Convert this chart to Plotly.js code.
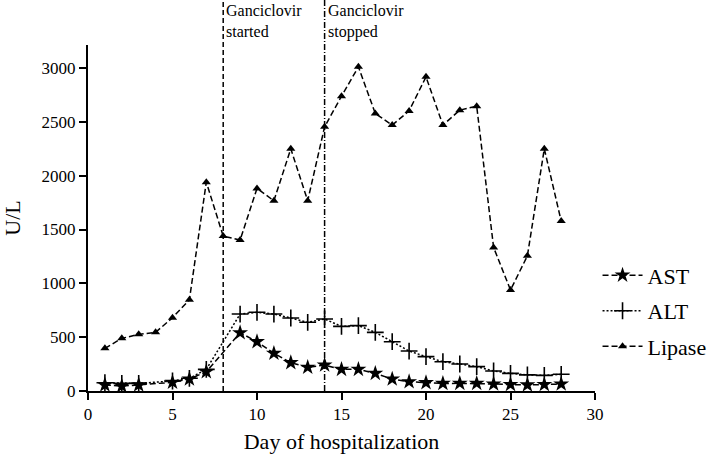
<!DOCTYPE html>
<html>
<head>
<meta charset="utf-8">
<script src="https://cdn.plot.ly/plotly-3.0.1.min.js"></script>
<style>
html,body{margin:0;padding:0;background:#fff;}
#chart{width:724px;height:461px;}
#pre{position:absolute;left:-9999px;top:0;font-family:'Liberation Serif';}
</style>
</head>
<body>
<div id="pre">AST ALT Lipase 0123456789</div>
<div id="chart"></div>
<script>
const daysAll = [1,2,3,4,5,6,7,8,9,10,11,12,13,14,15,16,17,18,19,20,21,22,23,24,25,26,27,28];
const lipase = [396,489,526,545,681,848,1940,1439,1402,1882,1767,2250,1767,2454,2739,3011,2578,2470,2602,2918,2470,2609,2646,1334,938,1256,2250,1578];
const daysEnz = [1,2,3,5,6,7,9,10,11,12,13,14,15,16,17,18,19,20,21,22,23,24,25,26,27,28];
const ast = [56,46,56,81,111,179,541,458,350,263,220,241,201,201,164,111,86,77,70,71,71,65,60,56,60,65];
const alt = [77,71,71,93,118,201,715,731,715,678,638,669,600,607,545,458,371,319,272,251,226,186,164,150,145,155];
const seriesNames = ['AST','ALT','Lipase'];
const events = [8,14];
const eventLabels = ['Ganciclovir<br>started','Ganciclovir<br>stopped'];
const xTitle = 'Day of hospitalization';
const yTitle = 'U/L';

const FAM = 'Times New Roman';
const traces = [
  {x: daysEnz, y: ast, name: seriesNames[0], mode: 'lines+markers', legendgroup: 'a',
   line: {color: '#000', width: 1.5, dash: '6px,3px'},
   marker: {symbol: 'star', size: 12, color: '#000'}},
  {x: daysEnz, y: alt, name: seriesNames[1], mode: 'lines+markers', legendgroup: 'b',
   line: {color: '#000', width: 1.5, dash: '2px,2px'},
   marker: {symbol: 'cross-thin-open', size: 12, color: '#000', line: {color: '#000', width: 1.6}}},
  {x: daysAll, y: lipase, name: seriesNames[2], mode: 'lines+markers', legendgroup: 'c',
   line: {color: '#000', width: 1.5, dash: '6px,3px'},
   marker: {symbol: 'triangle-up', size: 8, color: '#000'}}
];
const layout = {
  width: 724, height: 461,
  margin: {l: 88, r: 126, t: 45, b: 70},
  paper_bgcolor: '#fff', plot_bgcolor: '#fff',
  font: {family: FAM, color: '#000', size: 17},
  showlegend: true,
  legend: {x: 1.005, xanchor: 'left', y: 0.395, yanchor: 'top', font: {size: 22, family: FAM},
           tracegroupgap: 4, itemwidth: 40, bgcolor: 'rgba(0,0,0,0)'},
  xaxis: {range: [0, 30], tickvals: [0,5,10,15,20,25,30], showgrid: false, zeroline: false,
          showline: true, linecolor: '#000', linewidth: 2, ticks: 'outside', ticklen: 7, tickwidth: 2,
          tickcolor: '#000', tickfont: {size: 17, family: FAM},
          title: {text: xTitle, font: {size: 22, family: FAM}, standoff: 10}},
  yaxis: {range: [0, 3214], tickvals: [0,500,1000,1500,2000,2500,3000], showgrid: false, zeroline: false,
          showline: true, linecolor: '#000', linewidth: 2, ticks: 'outside', ticklen: 7, tickwidth: 2,
          tickcolor: '#000', tickfont: {size: 17, family: FAM},
          title: {text: yTitle, font: {size: 22, family: FAM}, standoff: 16}},
  shapes: [
    {type: 'line', xref: 'x', yref: 'paper', x0: events[0], x1: events[0], y0: 0, y1: 1.13,
     line: {color: '#000', width: 1.5, dash: '5px,3px'}},
    {type: 'line', xref: 'x', yref: 'paper', x0: events[1], x1: events[1], y0: 0, y1: 1.13,
     line: {color: '#000', width: 1.5, dash: '6px,2px,1px,2px'}}
  ],
  annotations: events.map((e, i) => ({
    x: e, xref: 'x', y: 1.13, yref: 'paper', xanchor: 'left', yanchor: 'top', xshift: 1,
    text: eventLabels[i], showarrow: false, align: 'left', font: {size: 16, family: FAM}
  }))
};
Plotly.newPlot('chart', traces, layout, {displayModeBar: false}).then(gd => {
  gd.querySelectorAll('svg text').forEach(t => {
    t.style.fontFamily = "'Liberation Serif', 'Times New Roman', serif";
  });
});
</script>
</body>
</html>
